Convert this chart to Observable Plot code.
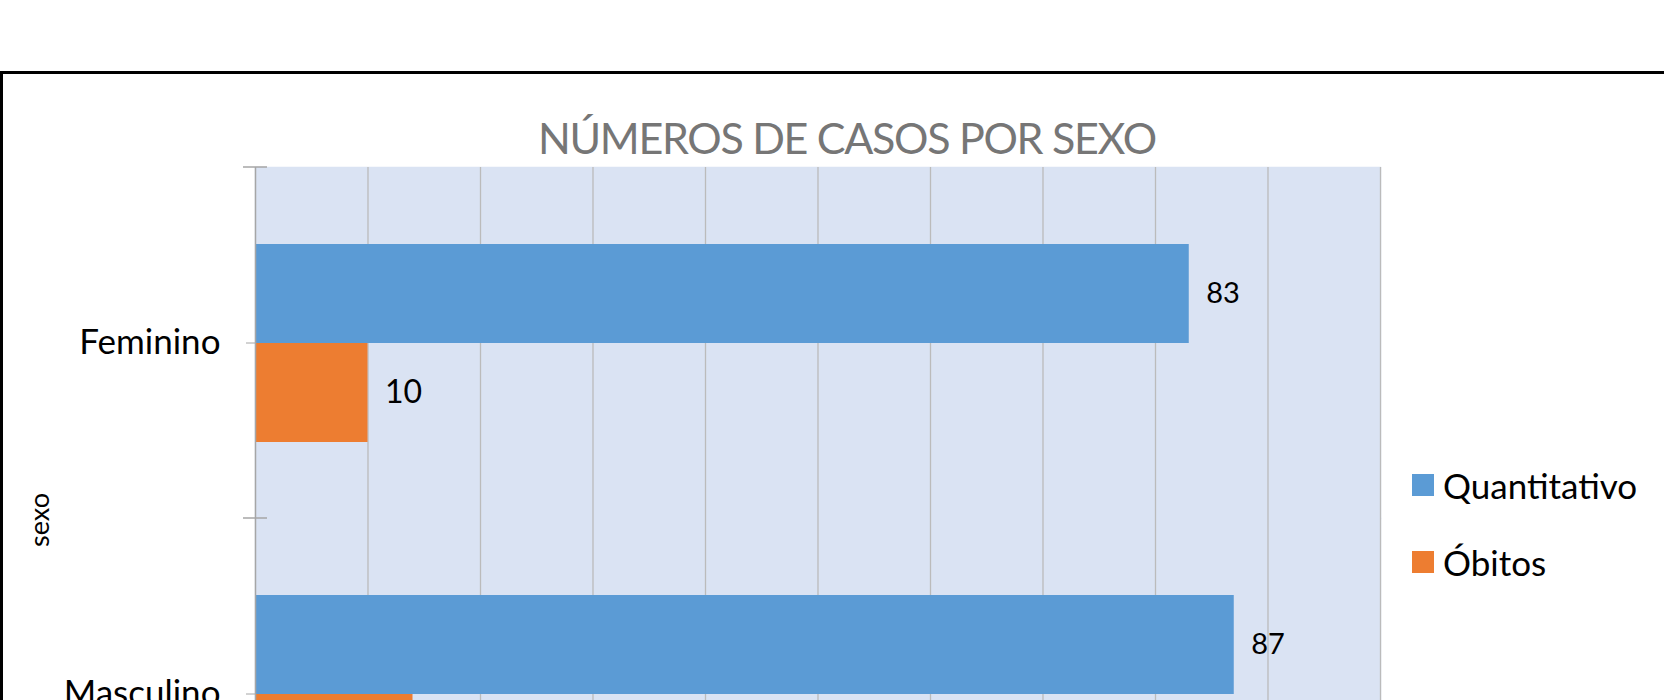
<!DOCTYPE html>
<html>
<head>
<meta charset="utf-8">
<script src="https://cdn.jsdelivr.net/npm/d3@7"></script>
<script src="https://cdn.jsdelivr.net/npm/@observablehq/plot@0.6"></script>
<style>
  html, body { margin: 0; padding: 0; background: #fff; }
  #wrap { position: relative; width: 1664px; height: 700px; overflow: hidden; background: #fff; font-family: Lato, "Open Sans", sans-serif; }
  #border { position: absolute; left: 0; top: 71px; width: 1720px; height: 900px; border: 3px solid #000; box-sizing: border-box; }
  #chart { position: absolute; left: 0; top: 0; }
  #title { position: absolute; left: 0; width: 1694px; top: 113px; text-align: center; font-size: 43px; line-height: 50px; font-weight: 400; letter-spacing: -1.3px; color: #767676; white-space: nowrap; }
  #ylabel { position: absolute; left: 39px; top: 520px; transform: translate(-50%, -50%) rotate(-90deg); font-size: 27px; line-height: 30px; color: #000; white-space: nowrap; }
  .item { position: absolute; left: 1412px; height: 40px; display: flex; align-items: center; font-size: 35px; color: #000; white-space: nowrap; }
  .sw { width: 22px; height: 22px; margin-right: 9px; flex: none; }
</style>
</head>
<body>
<div id="wrap">
  <div id="border"></div>
  <div id="chart"></div>
  <div id="title"></div>
  <div id="ylabel"></div>
  <div id="legend"></div>
</div>
<script>
const titleText = "NÚMEROS DE CASOS POR SEXO";
const axisLabel = "sexo";
const sexo = ["Feminino", "Masculino"];
const series = ["Quantitativo", "Óbitos"];
const quantitativo = [83, 87];
const obitos = [10, 14];
const xTicks = [0, 10, 20, 30, 40, 50, 60, 70, 80, 90, 100];
const colors = ["#5B9BD5", "#ED7D31"];

const rows = sexo.flatMap((s, i) => [
  {sexo: s, serie: series[0], value: quantitativo[i]},
  {sexo: s, serie: series[1], value: obitos[i]}
]);

document.getElementById("title").textContent = titleText;
document.getElementById("ylabel").textContent = axisLabel;

const boundaryTicks = (index, scales, values, dimensions) => {
  const {marginLeft, marginTop} = dimensions;
  const g = d3.create("svg:g");
  g.append("line")
    .attr("x1", marginLeft - 12).attr("x2", marginLeft + 12)
    .attr("y1", marginTop).attr("y2", marginTop)
    .attr("stroke", "#A6A6A6").attr("stroke-width", 1.5);
  return g.node();
};

const chart = Plot.plot({
  width: 1664,
  height: 700,
  marginLeft: 255,
  marginRight: 284,
  marginTop: 167,
  marginBottom: -169,
  style: {background: "transparent", fontFamily: "Lato, 'Open Sans', sans-serif", overflow: "hidden"},
  x: {domain: [xTicks[0], xTicks[xTicks.length - 1]], axis: null},
  y: {domain: series, paddingInner: 0, paddingOuter: 0.77, axis: null},
  fy: {domain: sexo, padding: 0, axis: null},
  color: {domain: series, range: colors},
  marks: [
    Plot.frame({fill: "#DAE3F3", stroke: "#DAE3F3", strokeWidth: 1.5}),
    Plot.ruleX(xTicks.slice(1), {stroke: "#BBBBBB", strokeWidth: 1.3}),
    Plot.barX(rows, {x: "value", y: "serie", fy: "sexo", fill: "serie"}),
    Plot.ruleX([xTicks[0]], {stroke: "#A6A6A6", strokeWidth: 1.5}),
    boundaryTicks,
    Plot.text(rows.filter(d => d.serie === series[0]), {
      x: "value", y: "serie", fy: "sexo", text: d => String(d.value),
      textAnchor: "start", dx: 17, fontSize: 29, fill: "#000"
    }),
    Plot.text(rows.filter(d => d.serie === series[1]), {
      x: "value", y: "serie", fy: "sexo", text: d => String(d.value),
      textAnchor: "start", dx: 17, fontSize: 32, fill: "#000"
    }),
    Plot.axisFy({anchor: "left", tickSize: 9, tickPadding: 26, fontSize: 35, label: null, stroke: "#A6A6A6", fill: "#000"})
  ]
});
document.getElementById("chart").appendChild(chart);

const legend = document.getElementById("legend");
const legendTops = [465, 542];
series.forEach((s, i) => {
  const item = document.createElement("div");
  item.className = "item";
  item.style.top = legendTops[i] + "px";
  const sw = document.createElement("div");
  sw.className = "sw";
  sw.style.background = colors[i];
  const lab = document.createElement("span");
  lab.textContent = s;
  item.appendChild(sw);
  item.appendChild(lab);
  legend.appendChild(item);
});
</script>
</body>
</html>
